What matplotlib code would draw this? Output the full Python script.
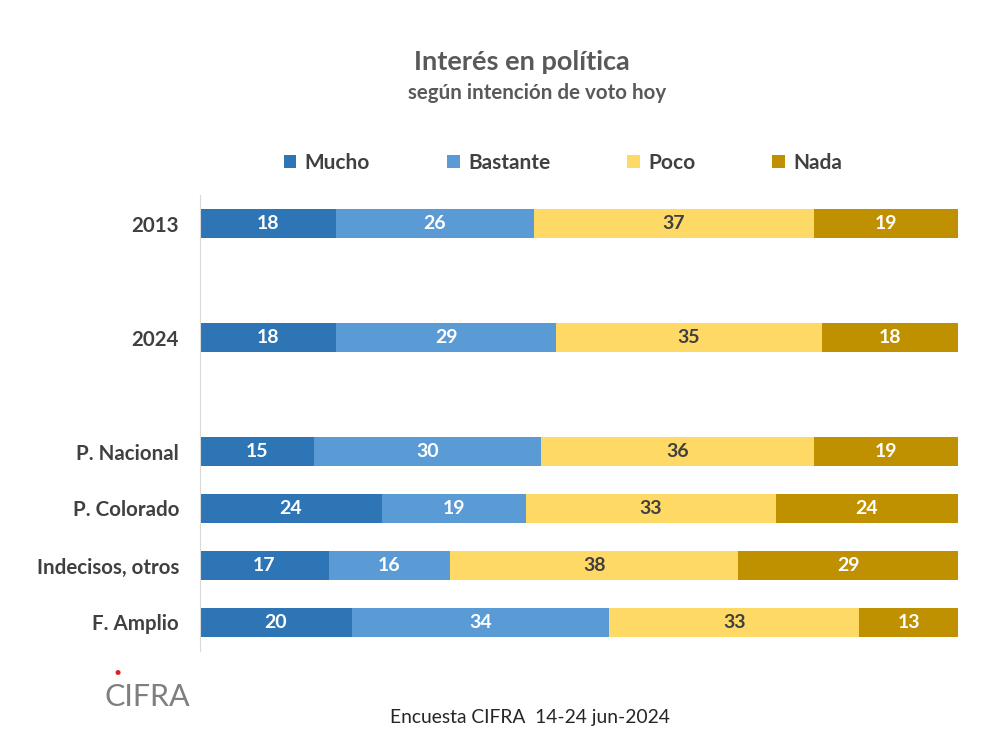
import matplotlib.pyplot as plt
import numpy as np

plt.rcParams['font.family'] = ['Lato', 'DejaVu Sans']

# datos
grupos = ["2013", "2024", "P. Nacional", "P. Colorado", "Indecisos, otros", "F. Amplio"]
posiciones = [0, 2, 4, 5, 6, 7]
categorias = ["Mucho", "Bastante", "Poco", "Nada"]
mucho = [18, 18, 15, 24, 17, 20]
bastante = [26, 29, 30, 19, 16, 34]
poco = [37, 35, 36, 33, 38, 33]
nada = [19, 18, 19, 24, 29, 13]

colores = ["#2E75B6", "#5B9BD5", "#FFD966", "#BF9000"]
color_texto = ["white", "white", "#404040", "white"]

fig = plt.figure(figsize=(10, 7.5), dpi=100)
ax = fig.add_axes([0.2, 0.132, 0.758, 0.608])

series = [mucho, bastante, poco, nada]
izq = np.zeros(len(grupos))
for vals, col, tc, nombre in zip(series, colores, color_texto, categorias):
    vals = np.array(vals, dtype=float)
    ax.barh(posiciones, vals, left=izq, height=0.52, color=col, label=nombre)
    for p, l, v in zip(posiciones, izq, vals):
        ax.text(l + v / 2, p, f"{v:.0f}", ha="center", va="center",
                color=tc, fontsize=14, fontweight="bold")
    izq += vals

ax.set_xlim(0, 100)
ax.set_ylim(7.5, -0.5)
ax.set_yticks(posiciones)
ax.set_yticklabels(grupos, fontsize=14.8, fontweight="bold", color="#404040")
ax.tick_params(axis="y", length=0, pad=15)
ax.set_xticks([])
for s in ["top", "right", "bottom"]:
    ax.spines[s].set_visible(False)
ax.spines["left"].set_color("#D9D9D9")

# leyenda
fig.legend(loc="center", bbox_to_anchor=(0.563, 0.783), ncol=4, frameon=False,
           fontsize=15, handlelength=0.6, handleheight=0.6, handletextpad=0.4,
           columnspacing=3.7, labelcolor="#404040")
leg = fig.legends[0]
for t in leg.get_texts():
    t.set_fontweight("bold")

# titulos
fig.text(0.522, 0.917, "Interés en política", ha="center", va="center",
         fontsize=19.5, fontweight="bold", color="#595959")
fig.text(0.537, 0.876, "según intención de voto hoy", ha="center", va="center",
         fontsize=14.8, fontweight="bold", color="#595959")

# fuente
fig.text(0.53, 0.044, "Encuesta CIFRA  14-24 jun-2024", ha="center", va="center",
         fontsize=13.9, color="#262626")

# logo
fig.text(0.147, 0.07, "CIFRA", ha="center", va="center", fontsize=22,
         color="#7F7F7F")
fig.text(0.118, 0.103, "•", ha="center", va="center", fontsize=10, color="#E02020")

fig.savefig("out.png", dpi=100)
